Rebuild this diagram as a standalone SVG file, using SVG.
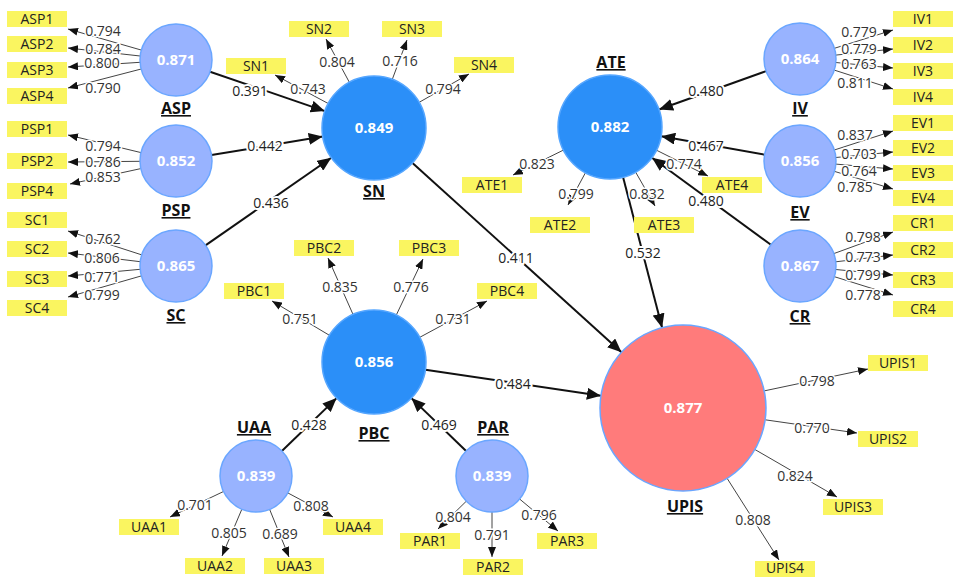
<svg xmlns="http://www.w3.org/2000/svg" width="956" height="577" viewBox="0 0 956 577">
<style>
text{font-family:"Open Sans","Noto Sans","Liberation Sans",sans-serif}
.st{stroke:#111;stroke-width:2;fill:none}
.ln{stroke:#444;stroke-width:1;fill:none}
.sl{font-size:14px;fill:#222;text-anchor:middle;paint-order:stroke;stroke:#fff;stroke-width:4;stroke-linejoin:round}
.ll{font-size:14px;fill:#333;text-anchor:middle;paint-order:stroke;stroke:#fff;stroke-width:3;stroke-linejoin:round}
.box{fill:#FAF560}
.it{font-size:14px;fill:#222;text-anchor:middle}
.lv{fill:#98B3FF;stroke:#6AA6FF;stroke-width:1.5}
.dk{fill:#2B8FF8;stroke:#55A6FF;stroke-width:1.5}
.up{fill:#FF7B7B;stroke:#6AA6FF;stroke-width:1.5}
.val{font-size:15px;font-weight:bold;fill:#fff;text-anchor:middle}
.nm{font-size:16px;font-weight:bold;fill:#111;text-anchor:middle;text-decoration:underline}
</style>
<defs>
<marker id="ab" markerUnits="userSpaceOnUse" markerWidth="14" markerHeight="12" refX="14" refY="6" orient="auto"><path d="M0,0 L14,6 L0,12 z" fill="#111"/></marker>
<marker id="as" markerUnits="userSpaceOnUse" markerWidth="10" markerHeight="8" refX="10" refY="4" orient="auto"><path d="M0,0 L10,4 L0,8 z" fill="#111"/></marker>
</defs>
<g id="connectors">
<g marker-end="url(#ab)">
<line class="st" x1="210" y1="71.7" x2="324.8" y2="111.1"/>
<line class="st" x1="211.5" y1="155.1" x2="322.7" y2="136.5"/>
<line class="st" x1="205.5" y1="245.4" x2="331.3" y2="157.7"/>
<line class="st" x1="412.5" y1="162.9" x2="621.5" y2="352.3"/>
<line class="st" x1="623.1" y1="177.3" x2="662.1" y2="327.7"/>
<line class="st" x1="425.4" y1="369.7" x2="600.9" y2="395.8"/>
<line class="st" x1="281.9" y1="451" x2="336.6" y2="398.1"/>
<line class="st" x1="466.1" y1="451" x2="411.4" y2="398.1"/>
<line class="st" x1="766.1" y1="71.1" x2="659" y2="109.5"/>
<line class="st" x1="764.6" y1="154.7" x2="661.2" y2="136.2"/>
<line class="st" x1="770.9" y1="244.7" x2="652" y2="157.7"/>
</g>
<g marker-end="url(#as)">
<line class="ln" x1="141.4" y1="50.1" x2="68" y2="29"/>
<line class="ln" x1="140.2" y1="56" x2="68" y2="48"/>
<line class="ln" x1="140.1" y1="62.3" x2="68" y2="67"/>
<line class="ln" x1="141.2" y1="69" x2="68" y2="88"/>
<line class="ln" x1="141" y1="152.6" x2="68" y2="135"/>
<line class="ln" x1="140" y1="161.3" x2="68" y2="162"/>
<line class="ln" x1="140.8" y1="168.6" x2="70" y2="184"/>
<line class="ln" x1="141.8" y1="254.9" x2="68" y2="231"/>
<line class="ln" x1="140.3" y1="261.7" x2="68" y2="253"/>
<line class="ln" x1="140.2" y1="269.3" x2="68" y2="276"/>
<line class="ln" x1="141.4" y1="275.9" x2="68" y2="297"/>
<line class="ln" x1="328.2" y1="103.5" x2="275" y2="75"/>
<line class="ln" x1="349.3" y1="82.2" x2="326" y2="39"/>
<line class="ln" x1="392.3" y1="79.3" x2="407" y2="40"/>
<line class="ln" x1="419.2" y1="102.3" x2="469" y2="74"/>
<line class="ln" x1="563.4" y1="150.1" x2="513" y2="175"/>
<line class="ln" x1="585.4" y1="172.8" x2="568" y2="205"/>
<line class="ln" x1="635.7" y1="172.2" x2="655" y2="206"/>
<line class="ln" x1="656.5" y1="150.2" x2="708" y2="176"/>
<line class="ln" x1="834.4" y1="48.3" x2="893" y2="30"/>
<line class="ln" x1="835.8" y1="55.1" x2="893" y2="49"/>
<line class="ln" x1="835.8" y1="62.5" x2="893" y2="68"/>
<line class="ln" x1="834.3" y1="70.1" x2="893" y2="89"/>
<line class="ln" x1="834.3" y1="150" x2="893" y2="131"/>
<line class="ln" x1="835.8" y1="157.5" x2="893" y2="152"/>
<line class="ln" x1="835.9" y1="164.1" x2="893" y2="169"/>
<line class="ln" x1="834.5" y1="171.4" x2="893" y2="189"/>
<line class="ln" x1="833.8" y1="253.6" x2="893" y2="232"/>
<line class="ln" x1="835.8" y1="261.8" x2="893" y2="255"/>
<line class="ln" x1="835.8" y1="269.5" x2="893" y2="275"/>
<line class="ln" x1="834.4" y1="276.7" x2="893" y2="295"/>
<line class="ln" x1="329.4" y1="335.3" x2="272" y2="301"/>
<line class="ln" x1="353" y1="314.4" x2="328" y2="258"/>
<line class="ln" x1="396.3" y1="315" x2="423" y2="259"/>
<line class="ln" x1="419.8" y1="337.3" x2="487" y2="301"/>
<line class="ln" x1="223.5" y1="491.5" x2="170" y2="517"/>
<line class="ln" x1="241.9" y1="509.1" x2="222" y2="556"/>
<line class="ln" x1="269.6" y1="509.3" x2="289" y2="557"/>
<line class="ln" x1="287.8" y1="492.9" x2="333" y2="517"/>
<line class="ln" x1="466.3" y1="501.2" x2="438" y2="529"/>
<line class="ln" x1="492" y1="512" x2="492" y2="557"/>
<line class="ln" x1="519.6" y1="499" x2="558" y2="531"/>
<line class="ln" x1="764.2" y1="390.9" x2="868" y2="369"/>
<line class="ln" x1="765.2" y1="419.8" x2="857" y2="433"/>
<line class="ln" x1="754.9" y1="449.5" x2="837" y2="497"/>
<line class="ln" x1="727.1" y1="478.3" x2="779" y2="560"/>
</g>
<g>
<text class="sl" x="250" y="96">0.391</text>
<text class="sl" x="265" y="151">0.442</text>
<text class="sl" x="271" y="208">0.436</text>
<text class="sl" x="516" y="263">0.411</text>
<text class="sl" x="643" y="258">0.532</text>
<text class="sl" x="513" y="389">0.484</text>
<text class="sl" x="309" y="430">0.428</text>
<text class="sl" x="439" y="430">0.469</text>
<text class="sl" x="706" y="96">0.480</text>
<text class="sl" x="706" y="151">0.467</text>
<text class="sl" x="706" y="206">0.480</text>
</g>
<g>
<text class="ll" x="103" y="36">0.794</text>
<text class="ll" x="103" y="54">0.784</text>
<text class="ll" x="102" y="68">0.800</text>
<text class="ll" x="103" y="93">0.790</text>
<text class="ll" x="103" y="151">0.794</text>
<text class="ll" x="103" y="167">0.786</text>
<text class="ll" x="103" y="182">0.853</text>
<text class="ll" x="103" y="244">0.762</text>
<text class="ll" x="102" y="263">0.806</text>
<text class="ll" x="102" y="282">0.771</text>
<text class="ll" x="102" y="300">0.799</text>
<text class="ll" x="308" y="94">0.743</text>
<text class="ll" x="337" y="67">0.804</text>
<text class="ll" x="400" y="66">0.716</text>
<text class="ll" x="443" y="94">0.794</text>
<text class="ll" x="537" y="169">0.823</text>
<text class="ll" x="576" y="199">0.799</text>
<text class="ll" x="647" y="199">0.832</text>
<text class="ll" x="684" y="169">0.774</text>
<text class="ll" x="859" y="37">0.779</text>
<text class="ll" x="859" y="54">0.779</text>
<text class="ll" x="859" y="69">0.763</text>
<text class="ll" x="855" y="88">0.811</text>
<text class="ll" x="855" y="140">0.837</text>
<text class="ll" x="859" y="159">0.703</text>
<text class="ll" x="859" y="176">0.764</text>
<text class="ll" x="855" y="192">0.785</text>
<text class="ll" x="863" y="242">0.798</text>
<text class="ll" x="863" y="262">0.773</text>
<text class="ll" x="863" y="280">0.799</text>
<text class="ll" x="863" y="300">0.778</text>
<text class="ll" x="300" y="324">0.751</text>
<text class="ll" x="340" y="292">0.835</text>
<text class="ll" x="411" y="292">0.776</text>
<text class="ll" x="453" y="324">0.731</text>
<text class="ll" x="195" y="510">0.701</text>
<text class="ll" x="229" y="538">0.805</text>
<text class="ll" x="280" y="539">0.689</text>
<text class="ll" x="311" y="511">0.808</text>
<text class="ll" x="453" y="522">0.804</text>
<text class="ll" x="492" y="540">0.791</text>
<text class="ll" x="539" y="520">0.796</text>
<text class="ll" x="817" y="386">0.798</text>
<text class="ll" x="812" y="433">0.770</text>
<text class="ll" x="795" y="481">0.824</text>
<text class="ll" x="753" y="525">0.808</text>
</g>
</g>
<g id="ASP"><circle class="lv" cx="176" cy="60" r="36"/><text class="val" x="176" y="65">0.871</text><text class="nm" x="176" y="114">ASP</text></g>
<g id="PSP"><circle class="lv" cx="176" cy="161" r="36"/><text class="val" x="176" y="166">0.852</text><text class="nm" x="176" y="216">PSP</text></g>
<g id="SC"><circle class="lv" cx="176" cy="266" r="36"/><text class="val" x="176" y="271">0.865</text><text class="nm" x="176" y="321">SC</text></g>
<g id="SN"><circle class="dk" cx="374" cy="128" r="52"/><text class="val" x="374" y="133">0.849</text><text class="nm" x="374" y="197">SN</text></g>
<g id="ATE"><circle class="dk" cx="610" cy="127" r="52"/><text class="val" x="610" y="132">0.882</text><text class="nm" x="611" y="68">ATE</text></g>
<g id="IV"><circle class="lv" cx="800" cy="59" r="36"/><text class="val" x="800" y="64">0.864</text><text class="nm" x="800" y="114">IV</text></g>
<g id="EV"><circle class="lv" cx="800" cy="161" r="36"/><text class="val" x="800" y="166">0.856</text><text class="nm" x="800" y="218">EV</text></g>
<g id="CR"><circle class="lv" cx="800" cy="266" r="36"/><text class="val" x="800" y="271">0.867</text><text class="nm" x="800" y="322">CR</text></g>
<g id="PBC"><circle class="dk" cx="374" cy="362" r="52"/><text class="val" x="374" y="367">0.856</text><text class="nm" x="374" y="439">PBC</text></g>
<g id="UAA"><circle class="lv" cx="256" cy="476" r="36"/><text class="val" x="256" y="481">0.839</text><text class="nm" x="254" y="433">UAA</text></g>
<g id="PAR"><circle class="lv" cx="492" cy="476" r="36"/><text class="val" x="492" y="481">0.839</text><text class="nm" x="493" y="433">PAR</text></g>
<g id="UPIS"><circle class="up" cx="683" cy="408" r="83"/><text class="val" x="683" y="413">0.877</text><text class="nm" x="685" y="512">UPIS</text></g>
<g id="ASP1"><rect class="box" x="7" y="11" width="60" height="16"/><text class="it" x="37" y="24">ASP1</text></g>
<g id="ASP2"><rect class="box" x="7" y="36" width="60" height="16"/><text class="it" x="37" y="49">ASP2</text></g>
<g id="ASP3"><rect class="box" x="7" y="62" width="60" height="16"/><text class="it" x="37" y="75">ASP3</text></g>
<g id="ASP4"><rect class="box" x="7" y="88" width="60" height="16"/><text class="it" x="37" y="101">ASP4</text></g>
<g id="PSP1"><rect class="box" x="7" y="121" width="60" height="16"/><text class="it" x="37" y="134">PSP1</text></g>
<g id="PSP2"><rect class="box" x="7" y="153" width="60" height="16"/><text class="it" x="37" y="166">PSP2</text></g>
<g id="PSP4"><rect class="box" x="7" y="183" width="60" height="16"/><text class="it" x="37" y="196">PSP4</text></g>
<g id="SC1"><rect class="box" x="7" y="212" width="60" height="16"/><text class="it" x="37" y="225">SC1</text></g>
<g id="SC2"><rect class="box" x="7" y="241" width="60" height="16"/><text class="it" x="37" y="254">SC2</text></g>
<g id="SC3"><rect class="box" x="7" y="271" width="60" height="16"/><text class="it" x="37" y="284">SC3</text></g>
<g id="SC4"><rect class="box" x="7" y="300" width="60" height="16"/><text class="it" x="37" y="313">SC4</text></g>
<g id="IV1"><rect class="box" x="893" y="11" width="60" height="16"/><text class="it" x="923" y="24">IV1</text></g>
<g id="IV2"><rect class="box" x="893" y="37" width="60" height="16"/><text class="it" x="923" y="50">IV2</text></g>
<g id="IV3"><rect class="box" x="893" y="63" width="60" height="16"/><text class="it" x="923" y="76">IV3</text></g>
<g id="IV4"><rect class="box" x="893" y="89" width="60" height="16"/><text class="it" x="923" y="102">IV4</text></g>
<g id="EV1"><rect class="box" x="893" y="115" width="60" height="16"/><text class="it" x="923" y="128">EV1</text></g>
<g id="EV2"><rect class="box" x="893" y="140" width="60" height="16"/><text class="it" x="923" y="153">EV2</text></g>
<g id="EV3"><rect class="box" x="893" y="165" width="60" height="16"/><text class="it" x="923" y="178">EV3</text></g>
<g id="EV4"><rect class="box" x="893" y="190" width="60" height="16"/><text class="it" x="923" y="203">EV4</text></g>
<g id="CR1"><rect class="box" x="893" y="215" width="60" height="16"/><text class="it" x="923" y="228">CR1</text></g>
<g id="CR2"><rect class="box" x="893" y="242" width="60" height="16"/><text class="it" x="923" y="255">CR2</text></g>
<g id="CR3"><rect class="box" x="893" y="272" width="60" height="16"/><text class="it" x="923" y="285">CR3</text></g>
<g id="CR4"><rect class="box" x="893" y="301" width="60" height="16"/><text class="it" x="923" y="314">CR4</text></g>
<g id="SN1"><rect class="box" x="226" y="58" width="60" height="16"/><text class="it" x="256" y="71">SN1</text></g>
<g id="SN2"><rect class="box" x="289" y="21" width="60" height="16"/><text class="it" x="319" y="34">SN2</text></g>
<g id="SN3"><rect class="box" x="382" y="21" width="60" height="16"/><text class="it" x="412" y="34">SN3</text></g>
<g id="SN4"><rect class="box" x="454" y="57" width="60" height="16"/><text class="it" x="484" y="70">SN4</text></g>
<g id="ATE1"><rect class="box" x="462" y="177" width="60" height="16"/><text class="it" x="492" y="190">ATE1</text></g>
<g id="ATE2"><rect class="box" x="530" y="217" width="60" height="16"/><text class="it" x="560" y="230">ATE2</text></g>
<g id="ATE3"><rect class="box" x="634" y="217" width="60" height="16"/><text class="it" x="664" y="230">ATE3</text></g>
<g id="ATE4"><rect class="box" x="702" y="177" width="60" height="16"/><text class="it" x="732" y="190">ATE4</text></g>
<g id="PBC1"><rect class="box" x="224" y="283" width="60" height="16"/><text class="it" x="254" y="296">PBC1</text></g>
<g id="PBC2"><rect class="box" x="294" y="240" width="60" height="16"/><text class="it" x="324" y="253">PBC2</text></g>
<g id="PBC3"><rect class="box" x="399" y="240" width="60" height="16"/><text class="it" x="429" y="253">PBC3</text></g>
<g id="PBC4"><rect class="box" x="477" y="283" width="60" height="16"/><text class="it" x="507" y="296">PBC4</text></g>
<g id="UAA1"><rect class="box" x="119" y="519" width="60" height="16"/><text class="it" x="149" y="532">UAA1</text></g>
<g id="UAA2"><rect class="box" x="185" y="558" width="60" height="16"/><text class="it" x="215" y="571">UAA2</text></g>
<g id="UAA3"><rect class="box" x="264" y="558" width="60" height="16"/><text class="it" x="294" y="571">UAA3</text></g>
<g id="UAA4"><rect class="box" x="323" y="519" width="60" height="16"/><text class="it" x="353" y="532">UAA4</text></g>
<g id="PAR1"><rect class="box" x="400" y="533" width="60" height="16"/><text class="it" x="430" y="546">PAR1</text></g>
<g id="PAR2"><rect class="box" x="463" y="559" width="60" height="16"/><text class="it" x="493" y="572">PAR2</text></g>
<g id="PAR3"><rect class="box" x="537" y="533" width="60" height="16"/><text class="it" x="567" y="546">PAR3</text></g>
<g id="UPIS1"><rect class="box" x="868" y="355" width="60" height="16"/><text class="it" x="898" y="368">UPIS1</text></g>
<g id="UPIS2"><rect class="box" x="858" y="431" width="60" height="16"/><text class="it" x="888" y="444">UPIS2</text></g>
<g id="UPIS3"><rect class="box" x="823" y="499" width="60" height="16"/><text class="it" x="853" y="512">UPIS3</text></g>
<g id="UPIS4"><rect class="box" x="755" y="561" width="60" height="16"/><text class="it" x="785" y="573">UPIS4</text></g>
</svg>
